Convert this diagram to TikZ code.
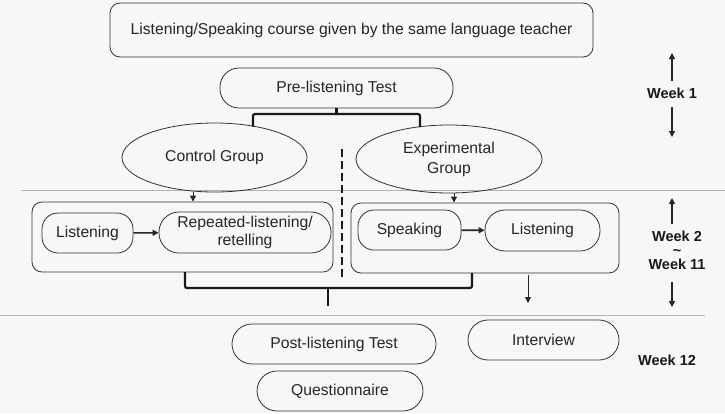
\documentclass[tikz,border=0pt]{standalone}
\usepackage{fontspec}
\setmainfont{Liberation Sans}
\usetikzlibrary{shapes.geometric,arrows.meta}
\begin{document}
\begin{tikzpicture}[x=1pt,y=-1pt,
  every node/.style={font=\fontsize{15.7}{18}\selectfont, text=black!85, inner sep=0pt},
  ln/.style={draw=black!80, line width=0.8pt},
  bigbox/.style={ln, rectangle, rounded corners=10pt},
  pill/.style={ln, rectangle, rounded corners=19pt, align=center},
  oval/.style={ln, ellipse, align=center},
  arr/.style={draw=black!85, line width=0.9pt, -{Triangle[length=6pt,width=6pt]}},
  brk/.style={draw=black!90, line width=2.2pt, rounded corners=2pt},
  sep/.style={draw=black!30, line width=1pt},
  week/.style={font=\fontsize{14.5}{17}\selectfont\bfseries, text=black!90, align=center}
]
\fill[white!97!black] (0,0) rectangle (725,413);
\useasboundingbox (0,0) rectangle (725,413);

% separators
\draw[sep] (21,190) -- (725,190);
\draw[sep] (0,315) -- (705,315);

% nodes
\node[bigbox, minimum width=483pt, minimum height=54pt] (top) at (351.5,30) {Listening/Speaking course given by the same language teacher};
\node[pill, minimum width=233pt, minimum height=40pt] (pre) at (336.5,88) {Pre-listening Test};
\node[oval, minimum width=185pt, minimum height=69pt] (cg) at (214.5,157.5) {Control Group};
\node[oval, minimum width=186pt, minimum height=68pt] (eg) at (449,159) {Experimental\\[2pt]Group};

\node[bigbox, minimum width=301pt, minimum height=70pt] (cbox) at (182.5,237) {};
\node[pill, minimum width=91pt, minimum height=40pt, rounded corners=16pt] (l1) at (87.5,233) {Listening};
\node[pill, minimum width=172pt, minimum height=41pt, rounded corners=20pt] (rep) at (245,232.5) {Repeated-listening/\\retelling};

\node[bigbox, minimum width=268pt, minimum height=70pt] (ebox) at (485,238) {};
\node[pill, minimum width=103pt, minimum height=40pt, rounded corners=16pt] (spk) at (409.5,230) {Speaking};
\node[pill, minimum width=115pt, minimum height=41pt, rounded corners=20pt] (l2) at (542.5,230.5) {Listening};

\node[pill, minimum width=204pt, minimum height=40pt, rounded corners=20pt] (post) at (334,344) {Post-listening Test};
\node[pill, minimum width=151pt, minimum height=40pt, rounded corners=20pt] (intv) at (543.5,340) {Interview};
\node[pill, minimum width=166pt, minimum height=40pt, rounded corners=20pt] (quest) at (340,391) {Questionnaire};

% top bracket
\coordinate (tbl) at (253,114);
\coordinate (tbr) at (420,114);
\coordinate (tcl) at (253,126.5);
\coordinate (tcr) at (420,127);
\draw[brk] (pre.south) -- (pre.south |- tbl);
\draw[brk] (tcl) -- (tbl) -- (tbr) -- (tcr);

% group arrows
\coordinate (ax) at (193,0);
\draw[arr] (ax |- cg.south) -- (ax |- cbox.north);
\coordinate (bx) at (454,0);
\draw[arr] (bx |- eg.south) -- (bx |- ebox.north);

% inner arrows
\draw[arr, line width=1.6pt] (l1) -- (rep);
\draw[arr, line width=1.6pt] (spk) -- (l2);

% dashed divider
\draw[draw=black!90, line width=2.4pt, dash pattern=on 8pt off 4pt] (342,149) -- (342,277);

% bottom bracket
\coordinate (bl1) at (185,272);
\coordinate (bl2) at (185,288);
\coordinate (br2) at (472,288);
\coordinate (br1) at (472,273);
\coordinate (bm) at (328,288);
\coordinate (btip) at (328,306);
\draw[brk] (bl1) -- (bl2) -- (br2) -- (br1);
\draw[brk] (bm) -- (btip);

% interview arrow
\coordinate (istart) at (528,275);
\coordinate (iend) at (528,303);
\draw[arr] (istart) -- (iend);

% week labels
\node[week] (w1) at (672,93) {Week 1};
\coordinate (w1u) at (672,53);
\coordinate (w1d) at (672,137);
\draw[arr, line width=1.2pt] (w1.north) ++(0,-6) -- (w1u);
\draw[arr, line width=1.2pt] (w1.south) ++(0,8) -- (w1d);

\node[week] (w2) at (677,250) {Week 2\\[-3pt]\textasciitilde\\[-3pt]Week 11};
\coordinate (w2u) at (672,198);
\coordinate (w2d) at (672,307);
\coordinate (w2us) at (672,224);
\coordinate (w2ds) at (672,282);
\draw[arr, line width=1.2pt] (w2us) -- (w2u);
\draw[arr, line width=1.2pt] (w2ds) -- (w2d);

\node[week] (w12) at (667,360) {Week 12};
\end{tikzpicture}
\end{document}
